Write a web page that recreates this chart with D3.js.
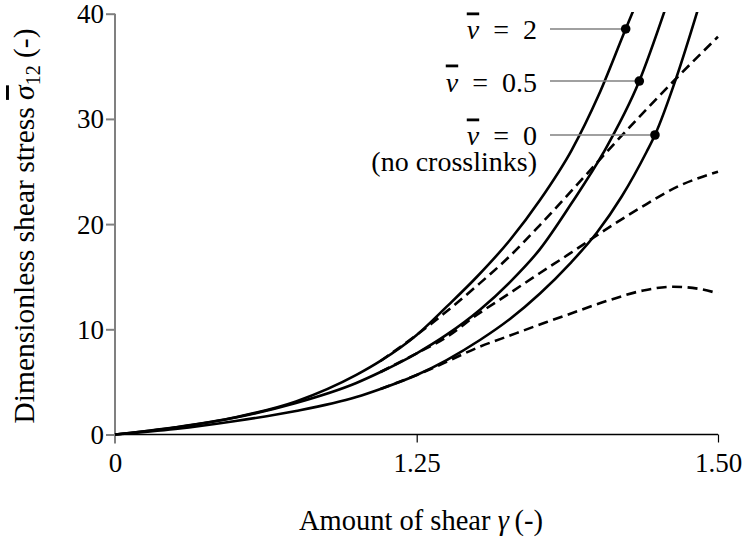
<!DOCTYPE html>
<html>
<head>
<meta charset="utf-8">
<script src="https://cdn.jsdelivr.net/npm/d3@7"></script>
<style>
  html, body { margin: 0; padding: 0; background: #fff; }
  svg { display: block; }
  svg text { font-family: "Liberation Serif", "Times New Roman", Times, serif; fill: #000; }
</style>
</head>
<body>
<svg id="chart" width="748" height="545"></svg>
<script>
// ---------- data ----------
const xTickValues = [0, 1.25, 1.5];
const xTickLabels = ["0", "1.25", "1.50"];
const yTickValues = [0, 10, 20, 30, 40];

// common low-strain part (gamma <= 1.25), solid and dashed coincide
const gammaLow = [0, 0.25, 0.5, 0.75, 1.0, 1.1, 1.25];
const sigmaLowNu2 = [0, 0.69, 1.64, 3.14, 5.66, 6.99, 9.46];
const sigmaLowNu05 = [0, 0.67, 1.62, 3.0, 4.9, 5.94, 7.72];
const sigmaLowNu0 = [0, 0.52, 1.28, 2.23, 3.56, 4.33, 5.66];

// solid curves (gamma > 1.25)
const gammaSolidNu2 = [1.2749, 1.2998, 1.3274, 1.3523, 1.3786, 1.4010, 1.4234, 1.4303];
const sigmaSolidNu2 = [12.15, 14.97, 18.49, 22.29, 27.04, 32.27, 38.55, 40.45];
const gammaSolidNu05 = [1.2749, 1.3025, 1.3274, 1.3523, 1.3786, 1.4048, 1.4347, 1.4570];
const sigmaSolidNu05 = [9.49, 11.86, 14.49, 17.62, 22.0, 26.76, 33.6, 40.7];
const gammaSolidNu0 = [1.2749, 1.3025, 1.3274, 1.3523, 1.3772, 1.3994, 1.4201, 1.4409, 1.4477, 1.4657, 1.4832];
const sigmaSolidNu0 = [7.08, 8.98, 10.98, 13.4, 16.25, 19.17, 22.62, 26.9, 28.47, 34.01, 40.35];

// dashed curves (gamma > 1.25)
const gammaDashNu2 = [1.2721, 1.2998, 1.3274, 1.3523, 1.3911, 1.4160, 1.4657, 1.5];
const sigmaDashNu2 = [11.45, 14.12, 16.97, 19.91, 24.76, 27.9, 33.89, 37.81];
const gammaDashNu05 = [1.2749, 1.2998, 1.3274, 1.3523, 1.3772, 1.3994, 1.4353, 1.4685, 1.5];
const sigmaDashNu05 = [9.27, 11.36, 13.45, 15.35, 17.21, 18.92, 21.53, 23.67, 24.98];
const gammaDashNu0 = [1.2635, 1.3025, 1.3274, 1.3579, 1.3745, 1.4104, 1.4380, 1.4629, 1.4850, 1.5];
const sigmaDashNu0 = [6.32, 8.35, 9.41, 10.69, 11.36, 12.79, 13.69, 14.05, 13.83, 13.42];

// labelled points
const labelNu = ["2", "0.5", "0"];
const labelGamma = [1.4234, 1.4347, 1.4477];
const labelSigma = [38.55, 33.6, 28.47];

// ---------- helpers ----------
const zip = (g, s) => g.map((v, i) => [v, s[i]]);
const lowNu2 = zip(gammaLow, sigmaLowNu2);
const lowNu05 = zip(gammaLow, sigmaLowNu05);
const lowNu0 = zip(gammaLow, sigmaLowNu0);
const solidSeries = [
  lowNu2.concat(zip(gammaSolidNu2, sigmaSolidNu2)),
  lowNu05.concat(zip(gammaSolidNu05, sigmaSolidNu05)),
  lowNu0.concat(zip(gammaSolidNu0, sigmaSolidNu0))
];
const dashSeries = [
  lowNu2.slice(-2).concat(zip(gammaDashNu2, sigmaDashNu2)),
  lowNu05.slice(-2).concat(zip(gammaDashNu05, sigmaDashNu05)),
  lowNu0.slice(-2).concat(zip(gammaDashNu0, sigmaDashNu0))
];

// ---------- layout ----------
const FONT = '"Liberation Serif", "Times New Roman", Times, serif';
const svg = d3.select("#chart");
const x = d3.scaleLinear().domain([0, 1.25, 1.5]).range([115, 416.7, 718]);
const y = d3.scaleLinear().domain([0, 40]).range([434.5, 13.7]);

svg.append("clipPath").attr("id", "plotclip")
  .append("rect").attr("x", 110).attr("y", 12).attr("width", 620).attr("height", 430);

// y axis (grey)
const yAxis = svg.append("g").attr("transform", `translate(${x(0)},0)`)
  .call(d3.axisLeft(y).tickValues(yTickValues).tickSize(9).tickPadding(2).tickFormat(d3.format("d")));
yAxis.attr("font-family", null).attr("font-size", null);
yAxis.select(".domain").attr("d", `M0,${y(40)}V${y(0) + 9}`).attr("stroke", "#808080").attr("stroke-width", 2);
yAxis.selectAll(".tick line").attr("stroke", "#808080").attr("stroke-width", 2);
yAxis.selectAll(".tick text").style("font-family", FONT).style("font-size", "27px").attr("fill", "#000").attr("dy", "0.33em");

// x axis (black)
const xAxis = svg.append("g").attr("transform", `translate(0,${y(0)})`)
  .call(d3.axisBottom(x).tickValues(xTickValues).tickSize(8).tickPadding(10).tickFormat((d, i) => xTickLabels[i]));
xAxis.attr("font-family", null).attr("font-size", null);
xAxis.select(".domain").attr("d", `M${x(0)},0H${x(1.5)}`).attr("stroke", "#000").attr("stroke-width", 1.3);
xAxis.selectAll(".tick line").attr("stroke", "#000").attr("stroke-width", 1.2);
xAxis.selectAll(".tick").filter(d => d === 0).select("line").remove();
xAxis.selectAll(".tick text").style("font-family", FONT).style("font-size", "27px").attr("fill", "#000");

// curves
const line = d3.line().x(d => x(d[0])).y(d => y(d[1])).curve(d3.curveMonotoneX);
const plot = svg.append("g").attr("clip-path", "url(#plotclip)");
plot.selectAll("path.dash").data(dashSeries).join("path")
  .attr("class", "dash").attr("d", line)
  .attr("fill", "none").attr("stroke", "#000").attr("stroke-width", 2.6)
  .attr("stroke-dasharray", "10,5.5");
plot.selectAll("path.solid").data(solidSeries).join("path")
  .attr("class", "solid").attr("d", line)
  .attr("fill", "none").attr("stroke", "#000").attr("stroke-width", 2.6);

// leader lines, dots and labels
const labelRight = 537, leaderStart = 550;
const lab = svg.append("g");
labelNu.forEach((nu, i) => {
  const px = x(labelGamma[i]), py = y(labelSigma[i]);
  lab.append("line").attr("x1", leaderStart).attr("x2", px).attr("y1", py).attr("y2", py)
    .attr("stroke", "#808080").attr("stroke-width", 1.6);
  lab.append("circle").attr("cx", px).attr("cy", py).attr("r", 4.8).attr("fill", "#000");
  const t = lab.append("text").attr("x", labelRight).attr("y", py + 10.5)
    .attr("text-anchor", "end").style("font-family", FONT).style("font-size", "28px");
  t.append("tspan").attr("font-style", "italic").attr("text-decoration", "overline").text("\u03BD");
  t.append("tspan").text("\u2002=\u2002" + nu);
  if (i === labelNu.length - 1) {
    t.append("tspan").attr("x", labelRight).attr("dy", 25.5).text("(no crosslinks)");
  }
});

// axis titles
const xt = svg.append("text").attr("x", 421).attr("y", 530).attr("text-anchor", "middle")
  .style("font-family", FONT).style("font-size", "28.5px");
xt.append("tspan").text("Amount of shear ");
xt.append("tspan").attr("font-style", "italic").text("\u03B3");
xt.append("tspan").text("\u2009(-)");

const yt = svg.append("text").attr("transform", "translate(34,226) rotate(-90)")
  .attr("text-anchor", "middle").style("font-family", FONT).style("font-size", "29.5px");
yt.append("tspan").text("Dimensionless shear stress ");
yt.append("tspan").attr("font-style", "italic").attr("text-decoration", "overline").text("\u03C3");
yt.append("tspan").style("font-size", "20px").attr("dy", 6).text("12");
yt.append("tspan").attr("dy", -6).text(" (-)");
</script>
</body>
</html>
